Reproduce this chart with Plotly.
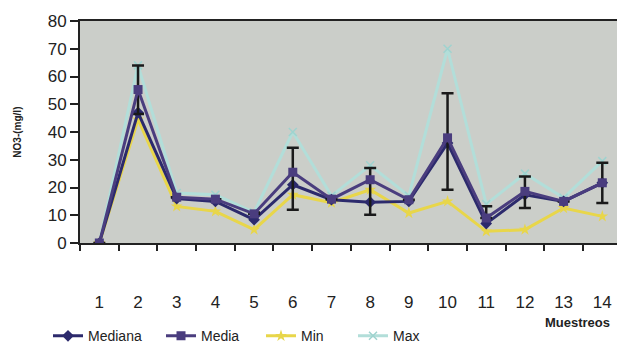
import plotly.graph_objects as go

muestreos = [1, 2, 3, 4, 5, 6, 7, 8, 9, 10, 11, 12, 13, 14]
tick_labels = [str(m) for m in muestreos]
mediana = [0, 47, 16, 15, 8.4, 21, 15.6, 14.7, 15, 36, 7, 17.4, 15, 21.7]
media = [0, 55.3, 16.5, 15.8, 10.5, 25.5, 15.8, 22.8, 15.6, 37.9, 9, 18.6, 15, 21.7]
minimo = [0, 44.5, 13.2, 11.4, 4.8, 17.4, 14.5, 19.2, 10.8, 15, 4.2, 4.8, 12.6, 9.6]
maximo = [0, 64, 18, 17.4, 11, 40, 17, 28, 17, 70, 14, 25, 16.3, 29.5]
err_hi = [0, 64, 16.5, 15.8, 11, 34.3, 15.8, 27, 15.6, 54, 13.2, 24, 15, 28.9]
err_lo = [0, 46.5, 16.5, 15.8, 10.5, 12, 15.8, 10.2, 15.6, 19.2, 9, 12.6, 15, 14.4]

font_fam = "Liberation Sans, Arial, sans-serif"

fig = go.Figure()
fig.add_trace(go.Scatter(
    x=muestreos, y=maximo, name="Max", mode="lines+markers", legend="legend4",
    line=dict(color="#b2ded9", width=3),
    marker=dict(symbol="x-thin", size=8, line=dict(color="#9fd3cf", width=1.5)),
))
fig.add_trace(go.Scatter(
    x=muestreos, y=minimo, name="Min", mode="lines+markers", legend="legend3",
    line=dict(color="#e8d64a", width=3),
    marker=dict(symbol="star", size=9, color="#e8d64a"),
))
fig.add_trace(go.Scatter(
    x=muestreos, y=mediana, name="Mediana", mode="lines+markers", legend="legend",
    line=dict(color="#2c2a6c", width=3),
    marker=dict(symbol="diamond", size=9, color="#2c2a6c"),
))
fig.add_trace(go.Scatter(
    x=muestreos, y=media, name="Media", mode="lines+markers", legend="legend2",
    line=dict(color="#4a3d7e", width=3),
    marker=dict(symbol="square", size=9, color="#4a3d7e"),
    error_y=dict(type="data", symmetric=False,
                 array=[h - m for h, m in zip(err_hi, media)],
                 arrayminus=[m - l for l, m in zip(err_lo, media)],
                 color="#1a1a1a", thickness=2.5, width=6),
))

def leg(px):
    return dict(orientation="h", x=(px - 80) / 537, xanchor="left",
                y=-0.42, yanchor="middle",
                font=dict(size=14, family=font_fam, color="#222222"),
                itemwidth=30, bgcolor="rgba(0,0,0,0)")

fig.update_layout(
    width=617, height=344,
    margin=dict(l=80, r=0, t=21, b=101, autoexpand=False),
    paper_bgcolor="white", plot_bgcolor="#cbcec9",
    font=dict(family=font_fam, color="#222222"),
    showlegend=True,
    legend=leg(48), legend2=leg(161), legend3=leg(261), legend4=leg(353),
)
fig.update_xaxes(
    range=[0.5, 14.38], tickmode="array", tickvals=muestreos, ticktext=tick_labels,
    ticks="", ticklabelstandoff=43, tickfont=dict(size=17, color="#222222"),
    showgrid=False, zeroline=False, showline=True, linecolor="#222222", linewidth=2,
    mirror=True,
    minor=dict(tickmode="array", tickvals=[i + 0.5 for i in range(0, 15)],
               ticks="outside", ticklen=6, tickwidth=1.5, tickcolor="#222222"),
)
fig.update_yaxes(
    range=[0, 80], dtick=10, ticks="outside", ticklen=8, tickwidth=1.5,
    tickcolor="#222222", tickfont=dict(size=17, color="#222222"),
    showgrid=False, zeroline=False, showline=True, linecolor="#222222", linewidth=2,
)
fig.add_annotation(text="<b>NO3-(mg/l)</b>", xref="paper", yref="paper",
                   x=-0.118, y=0.5, textangle=-90, showarrow=False,
                   font=dict(size=10, color="#222222"), xanchor="center", yanchor="middle")
fig.add_annotation(text="<b>Muestreos</b>", xref="paper", yref="paper",
                   x=0.99, y=-0.358, xanchor="right", yanchor="middle", showarrow=False,
                   font=dict(size=13, color="#222222"))

fig.write_html("out.html")
